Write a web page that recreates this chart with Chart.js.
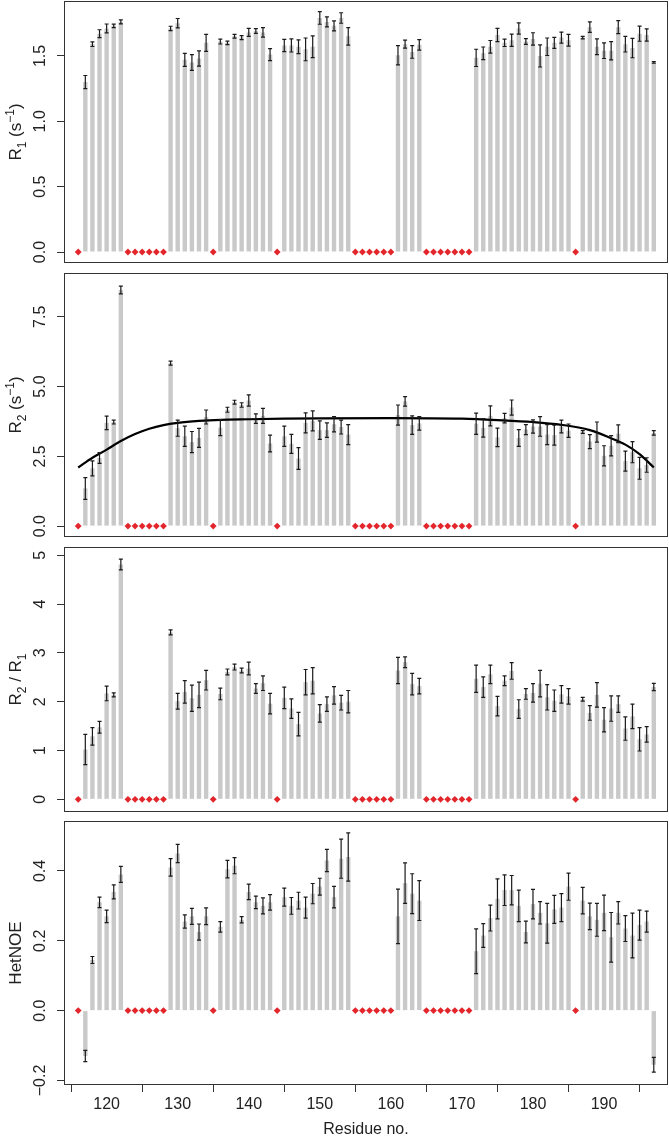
<!DOCTYPE html>
<html>
<head>
<meta charset="utf-8">
<script src="https://cdn.jsdelivr.net/npm/chart.js@4.4.1/dist/chart.umd.min.js"></script>
<style>
  html, body { margin: 0; padding: 0; background: #fff; }
  #wrap { position: relative; width: 669px; height: 1140px; }
  #wrap canvas { position: absolute; left: 0; }
</style>
</head>
<body>
<div id="wrap">
  <canvas id="c1" width="669" height="270" style="top:0px"></canvas>
  <canvas id="c2" width="669" height="270" style="top:270px"></canvas>
  <canvas id="c3" width="669" height="276" style="top:540px"></canvas>
  <canvas id="c4" width="669" height="324" style="top:816px"></canvas>
</div>
<script>
// residues with a measured value
const residues = [117, 118, 119, 120, 121, 122,
  129, 130, 131, 132, 133, 134,
  136, 137, 138, 139, 140, 141, 142, 143,
  145, 146, 147, 148, 149, 150, 151, 152, 153, 154,
  161, 162, 163, 164,
  172, 173, 174, 175, 176, 177, 178, 179, 180, 181, 182, 183, 184, 185,
  187, 188, 189, 190, 191, 192, 193, 194, 195, 196, 197];

// residues without data (red diamonds)
const missing = [116, 123, 124, 125, 126, 127, 128, 135, 144,
  155, 156, 157, 158, 159, 160, 165, 166, 167, 168, 169, 170, 171, 186];

const r1 = [1.30, 1.59, 1.67, 1.71, 1.73, 1.76,
  1.71, 1.75, 1.47, 1.45, 1.48, 1.60,
  1.61, 1.60, 1.65, 1.64, 1.68, 1.69, 1.68, 1.51,
  1.58, 1.58, 1.57, 1.55, 1.57, 1.79, 1.76, 1.73, 1.79, 1.65,
  1.505, 1.59, 1.53, 1.585,
  1.485, 1.52, 1.57, 1.66, 1.60, 1.62, 1.71, 1.61, 1.63, 1.50, 1.57, 1.60, 1.64, 1.62,
  1.64, 1.72, 1.57, 1.54, 1.54, 1.72, 1.59, 1.56, 1.67, 1.66, 1.45];
const r1Err = [0.05, 0.018, 0.03, 0.034, 0.013, 0.015,
  0.017, 0.036, 0.05, 0.06, 0.058, 0.065,
  0.019, 0.013, 0.014, 0.015, 0.03, 0.018, 0.037, 0.046,
  0.047, 0.05, 0.053, 0.087, 0.083, 0.048, 0.038, 0.038, 0.04, 0.067,
  0.073, 0.03, 0.048, 0.04,
  0.066, 0.048, 0.048, 0.05, 0.028, 0.047, 0.043, 0.022, 0.047, 0.085, 0.067, 0.042, 0.042, 0.045,
  0.01, 0.04, 0.06, 0.06, 0.07, 0.05, 0.06, 0.074, 0.058, 0.047, 0.006];

const r2 = [1.35, 2.07, 2.44, 3.70, 3.73, 8.46,
  5.84, 3.51, 3.22, 3.01, 3.16, 3.91,
  3.53, 4.17, 4.44, 4.34, 4.50, 3.85, 3.95, 2.96,
  3.22, 2.95, 2.42, 3.70, 3.77, 3.44, 3.44, 3.65, 3.55, 3.28,
  3.98, 4.47, 3.62, 3.68,
  3.67, 3.52, 3.95, 3.18, 3.87, 4.25, 3.16, 3.46, 3.57, 3.57, 3.28, 3.26, 3.57, 3.42,
  3.37, 3.03, 3.37, 2.52, 2.88, 3.31, 2.33, 2.65, 2.07, 2.19, 3.34];
const r2Err = [0.39, 0.27, 0.19, 0.24, 0.07, 0.14,
  0.07, 0.29, 0.36, 0.38, 0.34, 0.25,
  0.29, 0.09, 0.07, 0.08, 0.2, 0.17, 0.27, 0.3,
  0.36, 0.34, 0.39, 0.36, 0.36, 0.33, 0.26, 0.27, 0.25, 0.36,
  0.36, 0.17, 0.33, 0.24,
  0.38, 0.33, 0.36, 0.33, 0.17, 0.27, 0.3, 0.18, 0.24, 0.35, 0.36, 0.36, 0.23, 0.24,
  0.05, 0.25, 0.36, 0.36, 0.36, 0.32, 0.36, 0.38, 0.39, 0.26, 0.08];

// fitted curve drawn over R2
const fitX = [116, 118, 120, 122, 124, 126, 128, 130, 133, 136, 140, 145, 150, 160,
  170, 175, 180, 184, 188, 191, 193, 195, 197];
const fitY = [2.10, 2.45, 2.74, 3.05, 3.30, 3.49, 3.62, 3.70, 3.77, 3.81, 3.83, 3.85, 3.86, 3.87,
  3.85, 3.80, 3.73, 3.63, 3.44, 3.15, 2.92, 2.58, 2.10];

const ratio = [1.02, 1.29, 1.475, 2.17, 2.14, 4.81,
  3.42, 2.01, 2.20, 2.07, 2.14, 2.44,
  2.16, 2.61, 2.71, 2.64, 2.68, 2.27, 2.38, 1.96,
  2.08, 1.86, 1.54, 2.40, 2.43, 1.76, 1.95, 2.13, 1.98, 2.00,
  2.64, 2.81, 2.36, 2.32,
  2.47, 2.30, 2.56, 1.91, 2.43, 2.63, 1.85, 2.16, 2.18, 2.37, 2.09, 2.02, 2.15, 2.11,
  2.05, 1.77, 2.14, 1.63, 1.86, 1.95, 1.45, 1.70, 1.23, 1.33, 2.30];
const ratioErr = [0.31, 0.18, 0.12, 0.15, 0.04, 0.11,
  0.05, 0.16, 0.23, 0.27, 0.26, 0.2,
  0.12, 0.06, 0.06, 0.05, 0.13, 0.1, 0.15, 0.21,
  0.22, 0.2, 0.24, 0.26, 0.27, 0.18, 0.15, 0.18, 0.15, 0.23,
  0.27, 0.11, 0.22, 0.16,
  0.28, 0.21, 0.19, 0.2, 0.1, 0.17, 0.19, 0.11, 0.19, 0.27, 0.26, 0.22, 0.18, 0.16,
  0.04, 0.15, 0.25, 0.25, 0.26, 0.17, 0.24, 0.25, 0.24, 0.16, 0.075];

const noe = [-0.13, 0.145, 0.31, 0.27, 0.34, 0.39,
  0.41, 0.45, 0.255, 0.27, 0.225, 0.27,
  0.24, 0.405, 0.415, 0.26, 0.34, 0.31, 0.30, 0.31,
  0.325, 0.30, 0.315, 0.295, 0.335, 0.355, 0.43, 0.325, 0.435, 0.44,
  0.27, 0.365, 0.335, 0.315,
  0.17, 0.215, 0.265, 0.32, 0.345, 0.345, 0.30, 0.225, 0.305, 0.28, 0.25, 0.29, 0.295, 0.355,
  0.315, 0.27, 0.26, 0.28, 0.21, 0.28, 0.235, 0.215, 0.245, 0.255, -0.155];
const noeErr = [0.016, 0.01, 0.015, 0.018, 0.02, 0.023,
  0.025, 0.026, 0.019, 0.023, 0.023, 0.024,
  0.015, 0.025, 0.023, 0.009, 0.022, 0.018, 0.023, 0.022,
  0.026, 0.024, 0.024, 0.03, 0.029, 0.024, 0.032, 0.031, 0.056, 0.069,
  0.078, 0.058, 0.057, 0.057,
  0.064, 0.034, 0.037, 0.057, 0.044, 0.042, 0.045, 0.031, 0.042, 0.032, 0.057, 0.04, 0.04, 0.039,
  0.038, 0.038, 0.047, 0.051, 0.071, 0.032, 0.037, 0.064, 0.043, 0.03, 0.021];

// tick labels
const xTicks = [120, 130, 140, 150, 160, 170, 180, 190];
const r1Ticks = [0, 0.5, 1.0, 1.5];
const r2Ticks = [0, 2.5, 5.0, 7.5];
const ratioTicks = [0, 1, 2, 3, 4, 5];
const noeTicks = [-0.2, 0, 0.2, 0.4];

const FONT = '"Liberation Sans", Arial, Helvetica, sans-serif';
const INK = '#222';
const BAR = '#c9c9c9';
const RED = '#e3262b';

Chart.defaults.font.family = FONT;
Chart.defaults.color = INK;

// rotated axis title with sub/superscripts
function drawRich(ctx, parts, cx, cy, size) {
  const fontFor = k => (k === 'n' ? size : Math.round(size * 0.72)) + 'px ' + FONT;
  ctx.save();
  ctx.translate(cx, cy);
  ctx.rotate(-Math.PI / 2);
  let total = 0;
  parts.forEach(([t, k]) => { ctx.font = fontFor(k); total += ctx.measureText(t).width; });
  let x = -total / 2;
  ctx.textAlign = 'left';
  ctx.textBaseline = 'alphabetic';
  ctx.fillStyle = INK;
  parts.forEach(([t, k]) => {
    ctx.font = fontFor(k);
    const dy = k === 'sub' ? size * 0.28 : (k === 'sup' ? -size * 0.42 : 0);
    ctx.fillText(t, x, dy);
    x += ctx.measureText(t).width;
  });
  ctx.restore();
}

// error bars, frame and y title
const panelDeco = {
  id: 'panelDeco',
  afterDatasetsDraw(chart, args, o) {
    const { ctx, scales: { x, y } } = chart;
    ctx.save();
    ctx.strokeStyle = '#1a1a1a';
    ctx.lineWidth = 1.2;
    o.vals.forEach((v, i) => {
      const px = x.getPixelForValue(residues[i]);
      const y1 = y.getPixelForValue(v - o.errs[i]);
      const y2 = y.getPixelForValue(v + o.errs[i]);
      ctx.beginPath();
      ctx.moveTo(px, y1); ctx.lineTo(px, y2);
      ctx.moveTo(px - 2, y1); ctx.lineTo(px + 2, y1);
      ctx.moveTo(px - 2, y2); ctx.lineTo(px + 2, y2);
      ctx.stroke();
    });
    ctx.restore();
  },
  afterDraw(chart, args, o) {
    const { ctx, chartArea: a } = chart;
    ctx.save();
    ctx.strokeStyle = '#333';
    ctx.lineWidth = 1;
    ctx.strokeRect(a.left + 0.5, a.top + 0.5, a.right - a.left - 1, a.bottom - a.top - 1);
    ctx.restore();
    drawRich(ctx, o.title, 21, (a.top + a.bottom) / 2, 17);
  }
};

function yAxis(min, max, ticks, pad, fmt) {
  return {
    type: 'linear', min: min, max: max,
    afterBuildTicks: s => { s.ticks = ticks.map(v => ({ value: v })); },
    afterFit: s => { s.width = 64; s.paddingTop = 0; s.paddingBottom = 0; },
    grid: { drawOnChartArea: false, drawTicks: true, tickLength: 7, color: '#333' },
    border: { display: false },
    ticks: {
      minRotation: 90, maxRotation: 90, crossAlign: 'center', padding: pad,
      color: INK, font: { size: 16 }, callback: v => fmt(v)
    }
  };
}

function xAxis(show) {
  if (!show) return { type: 'linear', min: 114, max: 199, offset: false, display: false };
  return {
    type: 'linear', min: 114, max: 199, offset: false,
    afterBuildTicks: s => { s.ticks = xTicks.map(v => ({ value: v })); },
    afterFit: s => { s.height = 55; s.paddingLeft = 0; s.paddingRight = 0; },
    grid: { drawOnChartArea: false, drawTicks: true, tickLength: 7, color: '#333' },
    border: { display: false },
    ticks: { padding: 3, maxRotation: 0, autoSkip: false, color: INK, font: { size: 16 } },
    title: { display: true, text: 'Residue no.', color: INK, font: { size: 16 }, padding: { top: 0, bottom: 1 } }
  };
}

function makePanel(id, vals, errs, yScale, showX, pad, title, extra) {
  const datasets = [
    {
      type: 'bar', order: 3,
      data: residues.map((r, i) => ({ x: r, y: vals[i] })),
      backgroundColor: BAR, borderWidth: 0,
      barPercentage: 0.62, categoryPercentage: 1
    },
    {
      type: 'scatter', order: 1,
      data: missing.map(r => ({ x: r, y: 0 })),
      pointStyle: 'rectRot', pointRadius: 3.4, pointHoverRadius: 3.4,
      backgroundColor: RED, borderColor: RED, borderWidth: 0
    }
  ];
  if (extra) datasets.push(extra);
  return new Chart(document.getElementById(id), {
    type: 'bar',
    data: { datasets: datasets },
    options: {
      responsive: false,
      animation: false,
      layout: { autoPadding: false, padding: { top: pad[0], bottom: pad[1], left: 0, right: 1 } },
      scales: { x: xAxis(showX), y: yScale },
      plugins: {
        legend: { display: false },
        tooltip: { enabled: false },
        panelDeco: { vals: vals, errs: errs, title: title }
      }
    },
    plugins: [panelDeco]
  });
}

const f1 = v => v.toFixed(1);
const f0 = v => v.toFixed(0);
const fm = v => (v < 0 ? '\u2212' + Math.abs(v).toFixed(1) : v.toFixed(1));

makePanel('c1', r1, r1Err, yAxis(-0.084, 1.92, r1Ticks, 5, f1), false, [1, 7],
  [['R', 'n'], ['1', 'sub'], [' (s', 'n'], ['\u22121', 'sup'], [')', 'n']]);

makePanel('c2', r2, r2Err, yAxis(-0.39, 9.07, r2Ticks, 5, f1), false, [3, 3],
  [['R', 'n'], ['2', 'sub'], [' (s', 'n'], ['\u22121', 'sup'], [')', 'n']],
  {
    type: 'line', order: 2,
    data: fitX.map((r, i) => ({ x: r, y: fitY[i] })),
    borderColor: '#000', borderWidth: 2.2, pointRadius: 0, pointHoverRadius: 0,
    cubicInterpolationMode: 'monotone', fill: false
  });

makePanel('c3', ratio, ratioErr, yAxis(-0.26, 5.17, ratioTicks, 12, f0), false, [7, 4],
  [['R', 'n'], ['2', 'sub'], [' / R', 'n'], ['1', 'sub']]);

makePanel('c4', noe, noeErr, yAxis(-0.213, 0.543, noeTicks, 1, fm), true, [5, 0],
  [['HetNOE', 'n']]);
</script>
</body>
</html>
